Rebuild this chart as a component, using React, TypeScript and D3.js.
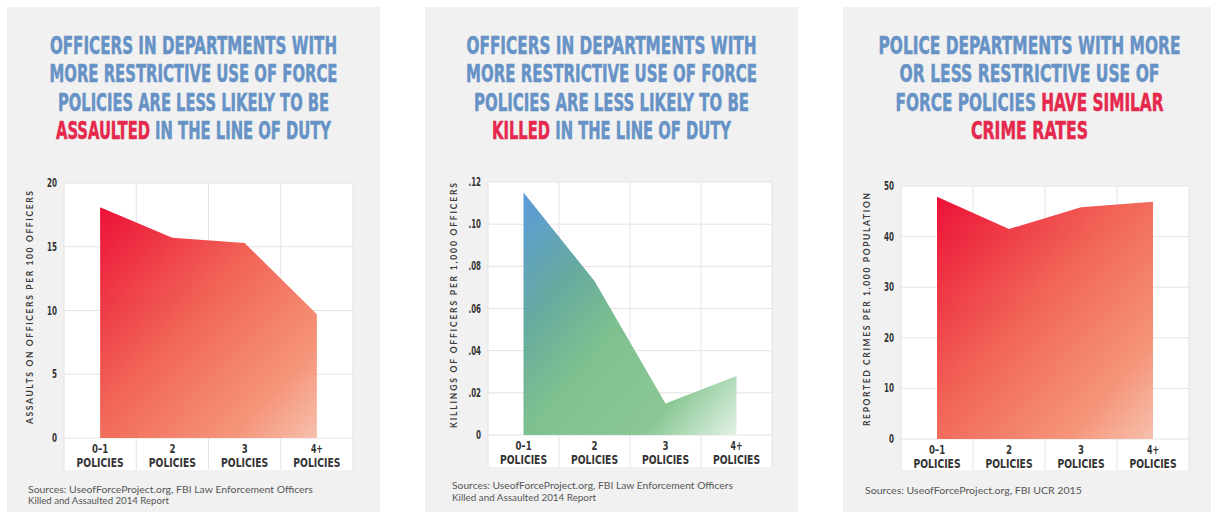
import React from "react";
import * as d3 from "d3";

// ---- data ----
const CATEGORIES = ["0–1", "2", "3", "4+"];
const CATEGORY_SUFFIX = "POLICIES";

const ASSAULTS = [18.1, 15.7, 15.3, 9.7];
const KILLINGS = [0.115, 0.073, 0.015, 0.028];
const CRIMES = [47.9, 41.5, 45.8, 46.9];

const ASSAULT_TICKS = [0, 5, 10, 15, 20];
const KILLING_TICKS = [0, 0.02, 0.04, 0.06, 0.08, 0.1, 0.12];
const CRIME_TICKS = [0, 10, 20, 30, 40, 50];

const ASSAULT_AXIS_TITLE = "ASSAULTS ON OFFICERS PER 100 OFFICERS";
const KILLING_AXIS_TITLE = "KILLINGS OF OFFICERS PER 1,000 OFFICERS";
const CRIME_AXIS_TITLE = "REPORTED CRIMES PER 1,000 POPULATION";

type Seg = [string, "b" | "r"];
const ASSAULT_TITLE: Seg[][] = [
  [["OFFICERS IN DEPARTMENTS WITH", "b"]],
  [["MORE RESTRICTIVE USE OF FORCE", "b"]],
  [["POLICIES ARE LESS LIKELY TO BE", "b"]],
  [["ASSAULTED", "r"], [" IN THE LINE OF DUTY", "b"]],
];
const KILLING_TITLE: Seg[][] = [
  [["OFFICERS IN DEPARTMENTS WITH", "b"]],
  [["MORE RESTRICTIVE USE OF FORCE", "b"]],
  [["POLICIES ARE LESS LIKELY TO BE", "b"]],
  [["KILLED", "r"], [" IN THE LINE OF DUTY", "b"]],
];
const CRIME_TITLE: Seg[][] = [
  [["POLICE DEPARTMENTS WITH MORE", "b"]],
  [["OR LESS RESTRICTIVE USE OF", "b"]],
  [["FORCE POLICIES ", "b"], ["HAVE SIMILAR", "r"]],
  [["CRIME RATES", "r"]],
];

const ASSAULT_SOURCES = [
  "Sources: UseofForceProject.org, FBI Law Enforcement Officers",
  "Killed and Assaulted 2014 Report",
];
const KILLING_SOURCES = ASSAULT_SOURCES;
const CRIME_SOURCES = ["Sources: UseofForceProject.org, FBI UCR 2015"];

// ---- styling ----
const BLUE = "#6692c6";
const RED = "#e5284c";
const CARD = "#f1f1f1";
const GRID = "#e3e3e3";
const INK = "#333333";
const CONDENSED = "'DejaVu Sans Condensed', 'DejaVu Sans', sans-serif";
const SANS = "Lato, 'Open Sans', sans-serif";

const RED_STOPS: [number, string][] = [
  [0, "#ec1137"],
  [0.45, "#f16557"],
  [0.8, "#f5957a"],
  [1, "#f7c0ad"],
];
const GREEN_STOPS: [number, string][] = [
  [0, "#5a9bdc"],
  [0.28, "#67aa9f"],
  [0.5, "#7ec18f"],
  [0.78, "#8ac895"],
  [1, "#e4f2e6"],
];

// rough widths of the narrow display glyphs used for the small labels
const glyphWidth = (s: string, digit: number) =>
  Array.from(s).reduce(
    (w, c) => w + (c === "." || c === "," ? digit * 0.5 : c === "–" || c === "-" ? digit * 0.7 : digit),
    0
  );

// Text squeezed horizontally to a given width (condensed display type)
function FitText(props: {
  x: number;
  y: number;
  width: number;
  anchor?: "start" | "middle" | "end";
  children: React.ReactNode;
  [k: string]: any;
}) {
  const { x, y, width, anchor = "middle", children, ...rest } = props;
  const ref = React.useRef<SVGTextElement>(null);
  const [sx, setSx] = React.useState(1);
  React.useLayoutEffect(() => {
    const measure = () => {
      const el = ref.current;
      if (!el) return;
      const w = el.getComputedTextLength();
      if (w > 0) setSx(width / w);
    };
    measure();
    if ((document as any).fonts && (document as any).fonts.ready) {
      (document as any).fonts.ready.then(measure);
    }
  }, [width]);
  return (
    <text
      ref={ref}
      x={0}
      y={0}
      transform={`translate(${x},${y}) scale(${sx},1)`}
      textAnchor={anchor}
      style={{ whiteSpace: "pre" }}
      {...rest}
    >
      {children}
    </text>
  );
}

type Layout = {
  card: [number, number];
  plot: { left: number; right: number; top: number; zero: number; bottom: number };
  titleX: number;
  titleWidths: number[];
  sourceX: number;
  sourceY: number[];
  sourceWidths: number[];
};

type PanelProps = {
  id: string;
  layout: Layout;
  title: Seg[][];
  values: number[];
  ticks: number[];
  tickFormat: (v: number) => string;
  axisTitle: string;
  axisTitleWidth: number;
  sources: string[];
  stops: [number, string][];
};

function Panel(p: PanelProps) {
  const { layout: L } = p;
  const { left, right, top, zero, bottom } = L.plot;
  const x = d3.scaleBand<string>().domain(CATEGORIES).range([left, right]).padding(0);
  const y = d3
    .scaleLinear()
    .domain([0, d3.max(p.ticks) as number])
    .range([zero, top]);
  const cx = (c: string) => (x(c) as number) + x.bandwidth() / 2;
  const area = d3
    .area<number>()
    .x((_, i) => cx(CATEGORIES[i]))
    .y0(y(0))
    .y1((d) => y(d));
  const edges = [...CATEGORIES.map((c) => x(c) as number), right];
  const titleBase = 54;
  const titleStep = 28.4;

  return (
    <g>
      <rect x={L.card[0]} y={7} width={L.card[1] - L.card[0]} height={512} fill={CARD} />
      {p.title.map((line, i) => (
        <FitText
          key={i}
          x={L.titleX}
          y={titleBase + i * titleStep}
          width={L.titleWidths[i]}
          fontFamily={CONDENSED}
          fontWeight={700}
          fontSize={24}
        >
          {line.map(([t, c], j) => (
            <tspan
              key={j}
              fill={c === "r" ? RED : BLUE}
              stroke={c === "r" ? RED : BLUE}
              strokeWidth={0.5}
            >
              {t}
            </tspan>
          ))}
        </FitText>
      ))}

      <defs>
        <linearGradient id={p.id} x1="0" y1="0" x2="1" y2="1">
          {p.stops.map(([o, c]) => (
            <stop key={o} offset={o} stopColor={c} />
          ))}
        </linearGradient>
      </defs>

      <rect x={left} y={top} width={right - left} height={bottom - top} fill="#ffffff" />
      {p.ticks.map((t) => (
        <line key={t} x1={left} x2={right} y1={y(t)} y2={y(t)} stroke={GRID} strokeWidth={1} />
      ))}
      {edges.map((e, i) => (
        <line key={i} x1={e} x2={e} y1={top} y2={bottom} stroke={GRID} strokeWidth={1} />
      ))}

      <path d={area(p.values) as string} fill={`url(#${p.id})`} />

      {p.ticks.map((t) => {
        const s = p.tickFormat(t);
        return (
          <FitText
            key={t}
            x={left - 7}
            y={y(t) + 4}
            width={glyphWidth(s, 5)}
            anchor="end"
            fontFamily={CONDENSED}
            fontWeight={700}
            fontSize={11.5}
            fill={INK}
          >
            {s}
          </FitText>
        );
      })}

      <text
        transform={`translate(${left - 31},${(top + zero) / 2 - 3}) rotate(-90)`}
        textAnchor="middle"
        fontFamily={SANS}
        fontWeight={700}
        fontSize={8.5}
        fill="#3c3c3c"
        textLength={p.axisTitleWidth}
        lengthAdjust="spacing"
      >
        {p.axisTitle}
      </text>

      {CATEGORIES.map((c) => (
        <g key={c}>
          <FitText
            x={cx(c)}
            y={zero + 15}
            width={glyphWidth(c, 6)}
            fontFamily={CONDENSED}
            fontWeight={700}
            fontSize={12.5}
            fill={INK}
          >
            {c}
          </FitText>
          <FitText
            x={cx(c)}
            y={zero + 29}
            width={47}
            fontFamily={CONDENSED}
            fontWeight={700}
            fontSize={12.5}
            fill={INK}
          >
            {CATEGORY_SUFFIX}
          </FitText>
        </g>
      ))}

      {p.sources.map((s, i) => (
        <FitText
          key={i}
          x={L.sourceX}
          y={L.sourceY[i]}
          width={L.sourceWidths[i]}
          anchor="start"
          fontFamily={SANS}
          fontSize={9}
          fill="#555555"
        >
          {s}
        </FitText>
      ))}
    </g>
  );
}

const LAYOUT_ASSAULT: Layout = {
  card: [7, 380],
  plot: { left: 64, right: 353, top: 183, zero: 438, bottom: 470 },
  titleX: 193.5,
  titleWidths: [287, 288, 271, 275],
  sourceX: 28,
  sourceY: [493, 504],
  sourceWidths: [285, 141],
};
const LAYOUT_KILLING: Layout = {
  card: [425, 798],
  plot: { left: 488, right: 772, top: 182, zero: 435, bottom: 467 },
  titleX: 611.5,
  titleWidths: [290, 291, 275, 239],
  sourceX: 452,
  sourceY: [489, 501],
  sourceWidths: [281, 144],
};
const LAYOUT_CRIME: Layout = {
  card: [843, 1216],
  plot: { left: 901, right: 1189, top: 186, zero: 439, bottom: 470 },
  titleX: 1029.5,
  titleWidths: [302, 260, 268, 117],
  sourceX: 865,
  sourceY: [494],
  sourceWidths: [217],
};

const fmtInt = (v: number) => String(v);
const fmtRate = (v: number) => (v === 0 ? "0" : d3.format(".2f")(v).replace(/^0/, ""));

export default function App() {
  return (
    <svg
      width={1211}
      height={512}
      viewBox="0 0 1211 512"
      style={{ position: "absolute", left: 0, top: 0, background: "#ffffff" }}
    >
      <rect width={1211} height={512} fill="#ffffff" />
      <Panel
        id="grad-assault"
        layout={LAYOUT_ASSAULT}
        title={ASSAULT_TITLE}
        values={ASSAULTS}
        ticks={ASSAULT_TICKS}
        tickFormat={fmtInt}
        axisTitle={ASSAULT_AXIS_TITLE}
        axisTitleWidth={233}
        sources={ASSAULT_SOURCES}
        stops={RED_STOPS}
      />
      <Panel
        id="grad-killing"
        layout={LAYOUT_KILLING}
        title={KILLING_TITLE}
        values={KILLINGS}
        ticks={KILLING_TICKS}
        tickFormat={fmtRate}
        axisTitle={KILLING_AXIS_TITLE}
        axisTitleWidth={245}
        sources={KILLING_SOURCES}
        stops={GREEN_STOPS}
      />
      <Panel
        id="grad-crime"
        layout={LAYOUT_CRIME}
        title={CRIME_TITLE}
        values={CRIMES}
        ticks={CRIME_TICKS}
        tickFormat={fmtInt}
        axisTitle={CRIME_AXIS_TITLE}
        axisTitleWidth={233}
        sources={CRIME_SOURCES}
        stops={RED_STOPS}
      />
    </svg>
  );
}
